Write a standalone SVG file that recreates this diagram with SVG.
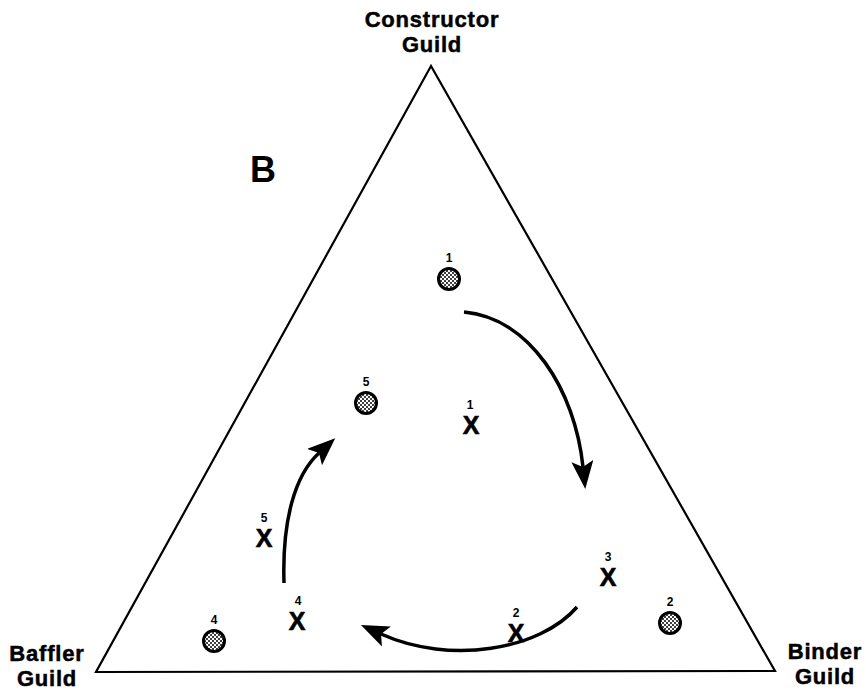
<svg xmlns="http://www.w3.org/2000/svg" width="866" height="691" viewBox="0 0 866 691">
<style>
.lbl{font-family:"Liberation Sans",Arial,sans-serif;font-weight:bold;fill:#000}
.vt{font-size:22px;text-anchor:middle;letter-spacing:0.8px;stroke:#000;stroke-width:0.5}
.num{font-size:12px;text-anchor:middle}
.x{font-size:25px;text-anchor:middle;stroke:#000;stroke-width:0.6}
.dot{fill:url(#dots);stroke:#000;stroke-width:3}
.arc{fill:none;stroke:#000;stroke-width:3.5;marker-end:url(#ah)}
</style>
<defs>
<pattern id="dots" width="4" height="4" patternUnits="userSpaceOnUse">
<rect width="4" height="4" fill="#fff"/>
<circle cx="1" cy="1" r="1" fill="#000"/>
<circle cx="3" cy="3" r="1" fill="#000"/>
</pattern>
<marker id="ah" markerUnits="userSpaceOnUse" markerWidth="32" markerHeight="24" refX="6" refY="11" orient="auto">
<path d="M0,0 L28,11 L0,22 L6,11 z" fill="#000"/>
</marker>
</defs>
<rect width="866" height="691" fill="#fff"/>
<g id="triangle">
<polygon points="431,66 96,672 775,671" fill="none" stroke="#000" stroke-width="2.2" stroke-linejoin="miter"/>
</g>
<g id="vertex-constructor">
<text class="lbl vt" x="432" y="27">Constructor</text>
<text class="lbl vt" x="432" y="52">Guild</text>
</g>
<g id="vertex-baffler">
<text class="lbl vt" x="47" y="661">Baffler</text>
<text class="lbl vt" x="47" y="686">Guild</text>
</g>
<g id="vertex-binder">
<text class="lbl vt" x="825" y="659">Binder</text>
<text class="lbl vt" x="825" y="684">Guild</text>
</g>
<g id="panel-label">
<text class="lbl" x="250" y="182" style="font-size:36px">B</text>
</g>
<g id="c1"><circle class="dot" cx="449" cy="279" r="10.5"/><text class="lbl num" x="449" y="262">1</text></g>
<g id="c5"><circle class="dot" cx="366" cy="403" r="10.5"/><text class="lbl num" x="366" y="386">5</text></g>
<g id="c2"><circle class="dot" cx="670" cy="623" r="10.5"/><text class="lbl num" x="670" y="606">2</text></g>
<g id="c4"><circle class="dot" cx="214" cy="641" r="10.5"/><text class="lbl num" x="214" y="624">4</text></g>
<g id="x1"><text class="lbl x" x="471" y="434">X</text><text class="lbl num" x="470" y="409">1</text></g>
<g id="x5"><text class="lbl x" x="264" y="547">X</text><text class="lbl num" x="264" y="522">5</text></g>
<g id="x3"><text class="lbl x" x="608" y="586">X</text><text class="lbl num" x="608" y="561">3</text></g>
<g id="x4"><text class="lbl x" x="297" y="630">X</text><text class="lbl num" x="298" y="605">4</text></g>
<g id="x2"><text class="lbl x" x="516" y="642">X</text><text class="lbl num" x="516" y="617">2</text></g>
<g id="connectors">
<path class="arc" d="M464,312 C530,318 575,390 583,467"/>
<path class="arc" d="M577,607 C540,650 450,665 381,634"/>
<path class="arc" d="M284,583 C282,520 295,475 319,453"/>
</g>
</svg>
